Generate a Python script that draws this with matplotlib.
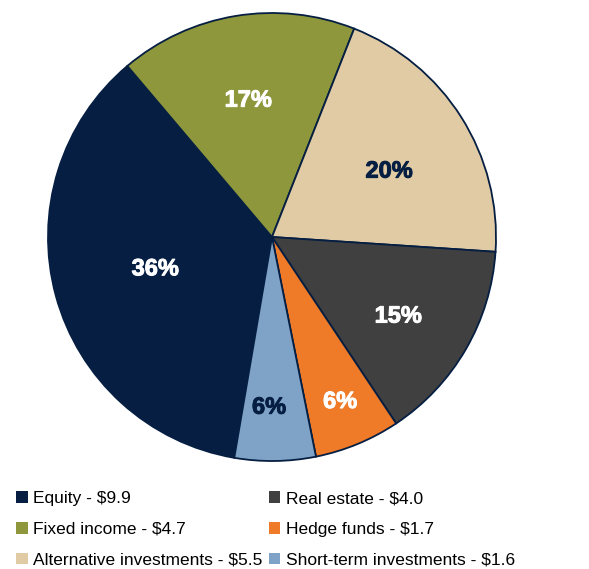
import matplotlib
matplotlib.use("Agg")
import matplotlib.pyplot as plt
import matplotlib.patheffects as pe
import numpy as np
from matplotlib.patches import Patch

plt.rcParams["font.family"] = ["Liberation Sans", "DejaVu Sans"]

# 资产类别与金额
categories = ["Equity", "Fixed income", "Alternative investments",
              "Real estate", "Hedge funds", "Short-term investments"]
values = [9.9, 4.7, 5.5, 4.0, 1.7, 1.6]
colors = ["#051E42", "#8E973B", "#E0CBA5", "#404040", "#EF7A28", "#7FA3C6"]
label_colors = ["white", "white", "#051E42", "white", "white", "#051E42"]
# 标签位置：半径比例与角度偏移（度）
label_dist = [0.54, 0.62, 0.60, 0.665, 0.795, 0.76]
label_shift = [0, 0.5, -3, -2, 0, -1.8]

fig = plt.figure(figsize=(5.89, 5.69), dpi=100)
ax = fig.add_axes([48 / 589, 108 / 569, 448 / 589, 448 / 569])

total = sum(values)
wedges, _ = ax.pie(values, colors=colors, startangle=260.3, counterclock=False,
                   radius=1.0, wedgeprops=dict(edgecolor="#051E42", linewidth=1.3))

for w, v, c, d, s in zip(wedges, values, label_colors, label_dist, label_shift):
    ang = np.deg2rad((w.theta1 + w.theta2) / 2 + s)
    ax.text(d * np.cos(ang), d * np.sin(ang), f"{v / total * 100:.0f}%",
            ha="center", va="center", color=c, fontsize=17, fontweight="bold",
            path_effects=[pe.withStroke(linewidth=0.7, foreground=c)])

ax.set_xlim(-1, 1)
ax.set_ylim(-1, 1)
ax.set_aspect("equal")
ax.axis("off")

# 图例：两列
handles = [Patch(facecolor=c, edgecolor="none") for c in colors]
labels = [f"{n} - ${v:.1f}" for n, v in zip(categories, values)]
fig.legend(handles, labels, ncol=2, loc="upper left", bbox_to_anchor=(4 / 589, 1 - 479 / 569),
           frameon=False, fontsize=12.5, handlelength=0.68, handleheight=0.68,
           handletextpad=0.3, columnspacing=0.35, labelspacing=0.9, borderpad=0.2)

fig.savefig("out.png", dpi=100)
